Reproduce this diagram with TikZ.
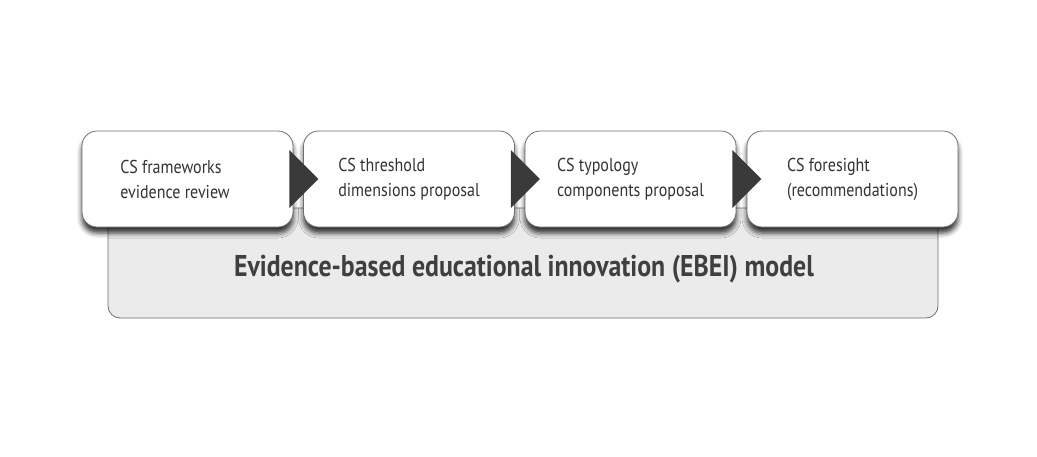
\documentclass[tikz,border=0pt]{standalone}
\usepackage{fontspec}
\setmainfont{PT Sans}[FakeStretch=0.86]
\usetikzlibrary{shadows.blur,calc}
\definecolor{txt}{HTML}{333333}
\definecolor{bigtxt}{HTML}{3F3F3F}
\definecolor{panel}{HTML}{EBEBEB}
\definecolor{edge}{HTML}{6E6E6E}
\definecolor{arrowc}{HTML}{3A3A3A}
\tikzset{
  stepbox/.style={draw=edge, line width=0.8pt, fill=white, rounded corners=15pt,
    minimum width=211pt, minimum height=96pt, align=left, text=txt,
    font=\fontsize{18.6}{25}\selectfont,
    blur shadow={shadow xshift=0pt, shadow yshift=-6pt, shadow blur radius=5pt, shadow opacity=80}},
  panelbox/.style={draw=edge, line width=0.8pt, fill=panel, rounded corners=12pt},
  bigtext/.style={text=bigtxt, font=\fontsize{30}{36}\bfseries\selectfont},
  chevron/.style={fill=arrowc, draw=none}
}
\begin{document}
\begin{tikzpicture}[x=1pt,y=-1pt]
\useasboundingbox (0,0) rectangle (1037,456);
\path[panelbox] (108,208) rectangle (938,318);
\node[bigtext] (model) at (524,269) {Evidence-based educational innovation (EBEI) model};
\node[stepbox] (b1) at (187.5,179) {CS frameworks\hspace*{25pt}\\evidence review\hspace*{25pt}};
\node[stepbox] (b2) at (409,179) {CS threshold\\dimensions proposal};
\node[stepbox] (b3) at (630.5,179) {CS typology\\components proposal};
\node[stepbox] (b4) at (852.5,179) {CS foresight\\(recommendations)};
\foreach \a in {b1,b2,b3}{
  \fill[chevron] ($(\a.east)+(-4,-29)$) -- ($(\a.east)+(25,0)$) -- ($(\a.east)+(-4,29)$) -- cycle;
}
\end{tikzpicture}
\end{document}
